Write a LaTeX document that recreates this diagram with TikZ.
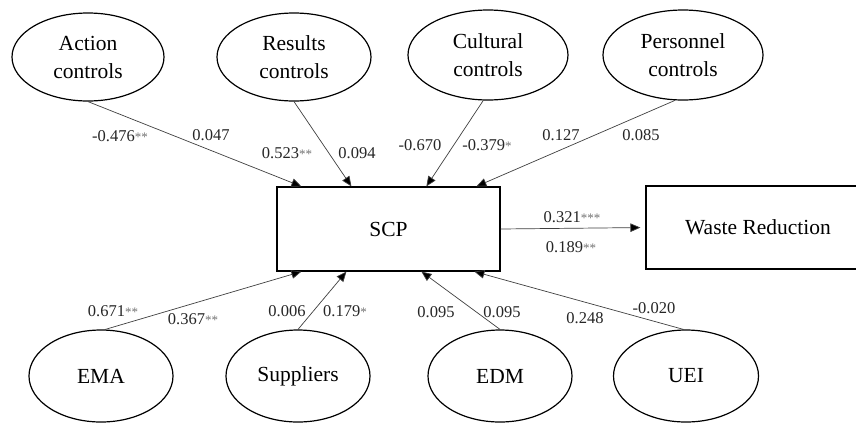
\documentclass[tikz,border=0pt]{standalone}
\usepackage{fontspec}
\setmainfont{Liberation Serif}
\usetikzlibrary{shapes.geometric,arrows.meta,calc}

\tikzset{
  latent/.style={ellipse, draw=black, line width=1.2pt, inner sep=0pt,
    align=center, font=\fontsize{21.5}{28}\selectfont},
  construct/.style={rectangle, draw=black, line width=1.2pt, inner sep=0pt,
    font=\fontsize{21.5}{24}\selectfont},
  path/.style={draw=black!75, line width=0.7pt,
    -{Triangle[length=10pt,width=8.5pt,fill=black]}},
  coef/.style={inner sep=0pt, font=\fontsize{16.5}{18}\selectfont, text=black!85},
}
\newcommand{\sig}[1]{{\fontsize{13}{14}\selectfont\color{black!55}#1}}

\begin{document}
\begin{tikzpicture}[x=1pt,y=-1pt]
\useasboundingbox (0,0) rectangle (856,424);
\clip (0,0) rectangle (856,424);
\fill[white] (0,0) rectangle (856,424);

% control constructs (top row)
\node[latent, minimum width=152pt, minimum height=88pt] (act) at (88,57) {Action\\controls};
\node[latent, minimum width=154pt, minimum height=88pt] (res) at (294,57) {Results\\controls};
\node[latent, minimum width=160pt, minimum height=90pt] (cul) at (488,55) {Cultural\\controls};
\node[latent, minimum width=160pt, minimum height=90pt] (per) at (683,55) {Personnel\\controls};

% central construct and outcome
\node[construct, minimum width=223pt, minimum height=84pt] (scp) at (388.5,229) {SCP};
\node[construct, minimum width=224pt, minimum height=83pt] (waste) at (758,227.5) {Waste Reduction};

% antecedents (bottom row)
\node[latent, minimum width=144pt, minimum height=92pt] (ema) at (101,376) {EMA};
\node[latent, minimum width=144pt, minimum height=92pt] (sup) at (298,376) {Suppliers};
\node[latent, minimum width=144pt, minimum height=92pt] (edm) at (500,376) {EDM};
\node[latent, minimum width=145pt, minimum height=92pt] (uei) at (686,376) {UEI};

% structural paths into SCP
\draw[path] (act.south) -- ($(scp.north west)+(25,0)$);
\draw[path] (res.south) -- ($(scp.north west)+(75,0)$);
\draw[path] (cul.264) -- ($(scp.north west)+(150,0)$);
\draw[path] (per.260) -- ($(scp.north west)+(200,0)$);
\draw[path] (ema.85) -- ($(scp.south west)+(25,0)$);
\draw[path] (sup.north) -- ($(scp.south west)+(70,0)$);
\draw[path] (edm.north) -- ($(scp.south west)+(145,0)$);
\draw[path] (uei.93) -- ($(scp.south west)+(198,0)$);
\draw[path, shorten >=5pt] (scp.east) -- (waste.west);

% path coefficients
\node[coef] (c1) at (120,136) {-0.476\sig{**}};
\node[coef] (c2) at (211,135) {0.047};
\node[coef] (c3) at (287,153) {0.523\sig{**}};
\node[coef] (c4) at (357,153) {0.094};
\node[coef] (c5) at (420,145) {-0.670};
\node[coef] (c6) at (487,145) {-0.379\sig{*}};
\node[coef] (c7) at (561,135) {0.127};
\node[coef] (c8) at (641,135) {0.085};
\node[coef] (c9) at (572,217) {0.321\sig{***}};
\node[coef] (c10) at (571,247) {0.189\sig{**}};
\node[coef] (c11) at (113,311) {0.671\sig{**}};
\node[coef] (c12) at (193,319) {0.367\sig{**}};
\node[coef] (c13) at (287,311) {0.006};
\node[coef] (c14) at (345,311) {0.179\sig{*}};
\node[coef] (c15) at (436,312) {0.095};
\node[coef] (c16) at (502,312) {0.095};
\node[coef] (c17) at (585,318) {0.248};
\node[coef] (c18) at (654,308) {-0.020};
\end{tikzpicture}
\end{document}
